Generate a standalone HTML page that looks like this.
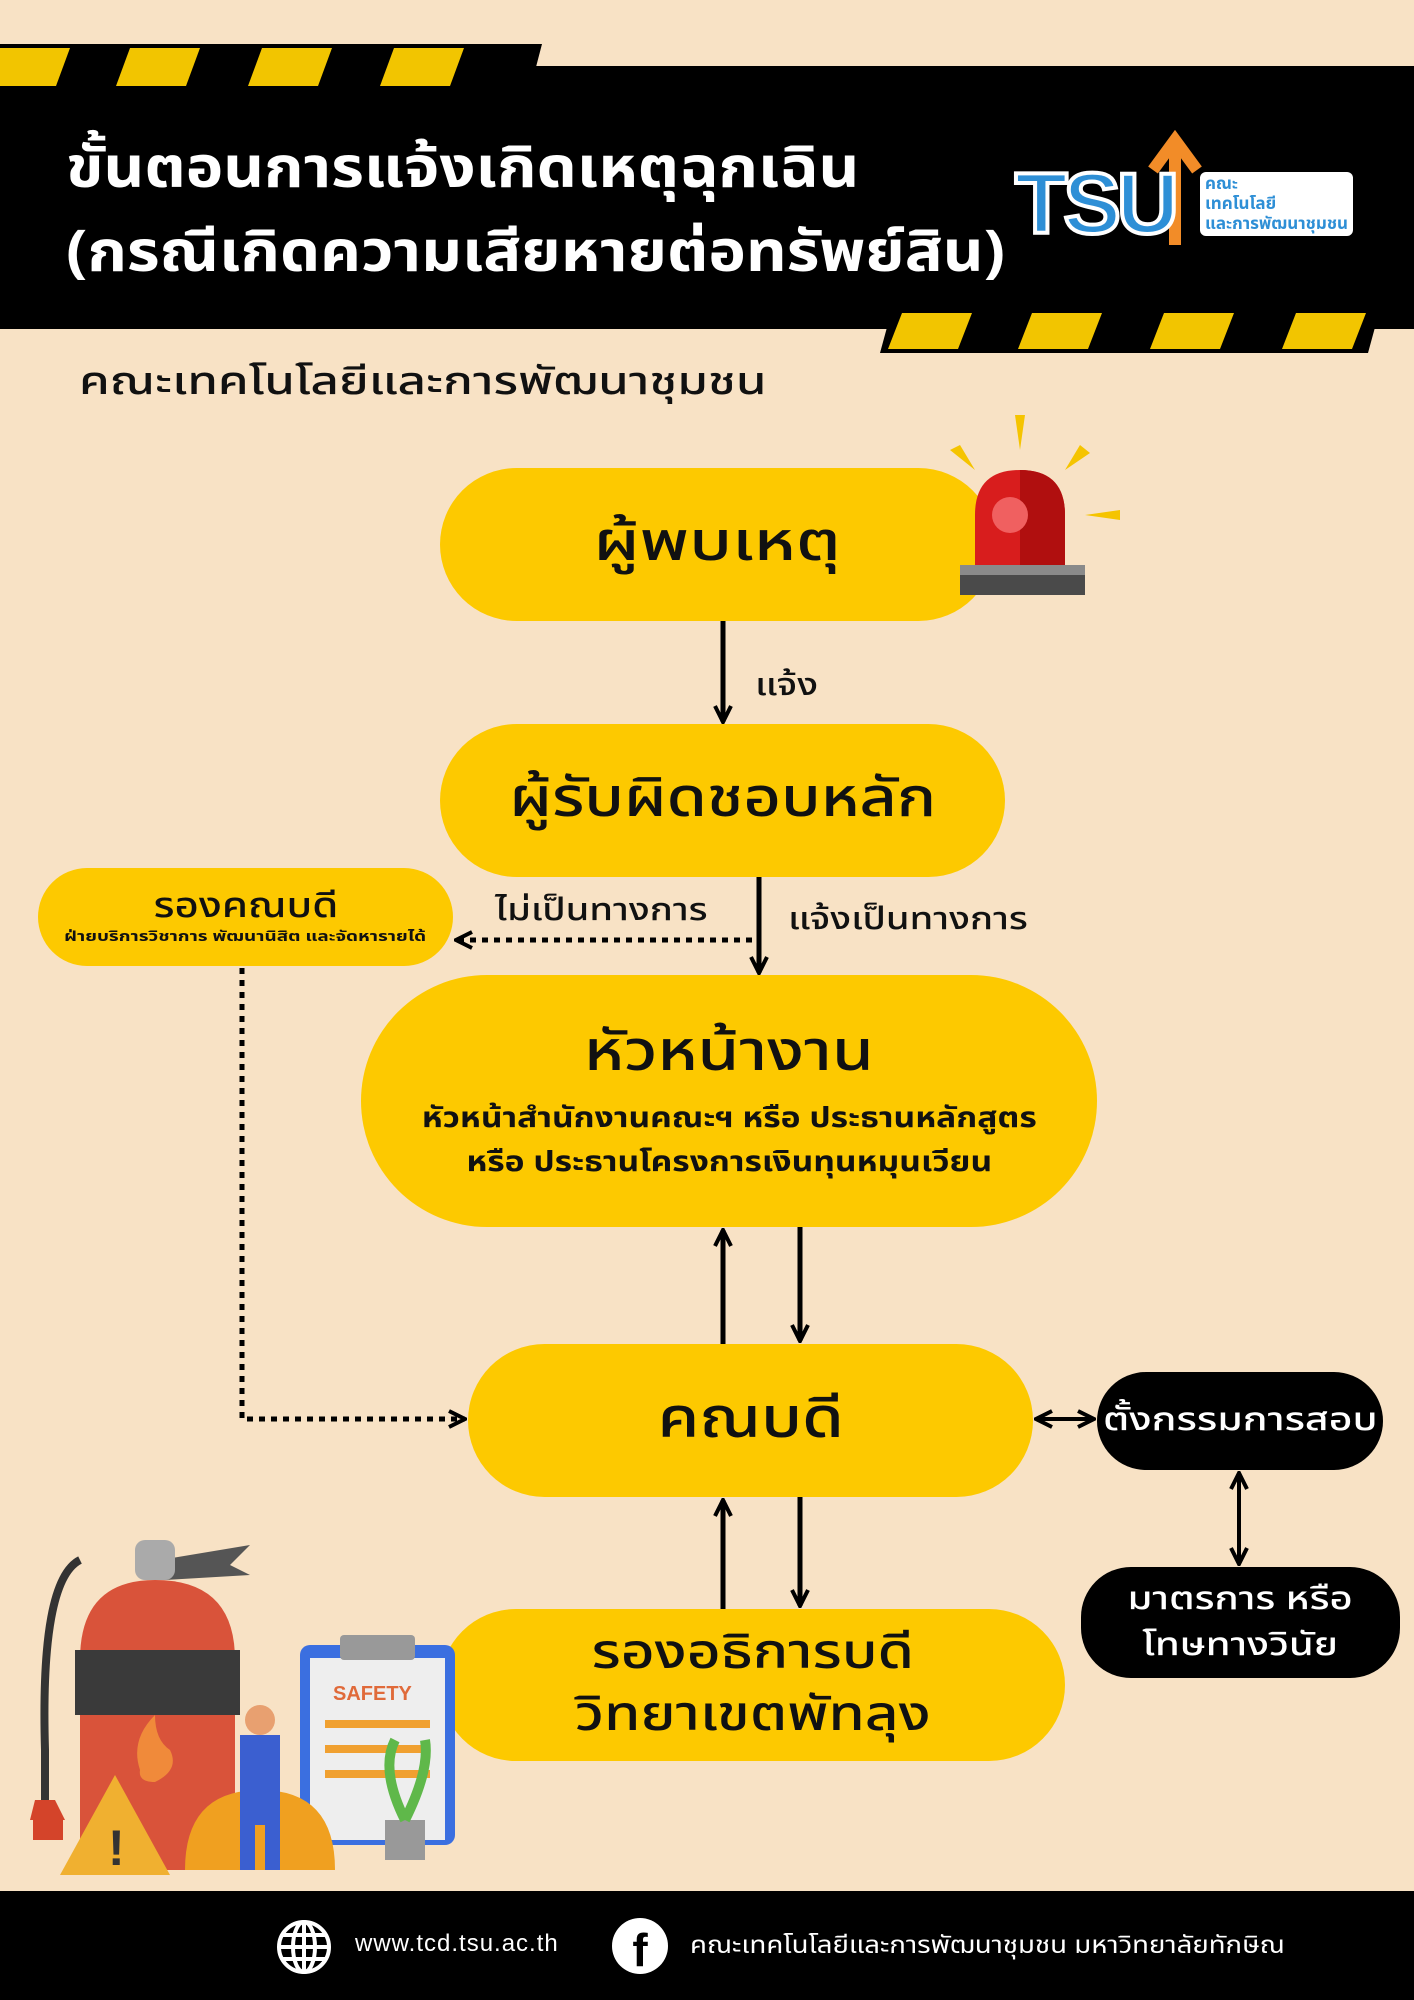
<!DOCTYPE html>
<html><head><meta charset="utf-8">
<style>
*{margin:0;padding:0;box-sizing:border-box}
body{width:1414px;height:2000px;background:#f8e2c5;position:relative;overflow:hidden;font-family:"Noto Sans Thai","Noto Sans Thai UI","Loma","Garuda","Tlwg Typo","Liberation Sans","DejaVu Sans",sans-serif;color:#111}
.abs{position:absolute}
.pill{position:absolute;background:#fdc900;border-radius:80px;display:flex;flex-direction:column;align-items:center;justify-content:center;text-align:center;font-weight:500}
.blk{position:absolute;background:#000;color:#fff;border-radius:50px;display:flex;flex-direction:column;align-items:center;justify-content:center;text-align:center;font-weight:500}
.lbl{position:absolute;font-size:31px;white-space:nowrap;transform-origin:left center;transform:scaleX(1.23);font-weight:500}
.s{display:inline-block;white-space:nowrap}
</style></head><body>
<!-- header -->
<div class="abs" style="left:0;top:66px;width:1414px;height:263px;background:#000"></div>
<svg class="abs" style="left:0;top:44px" width="560" height="46">
<polygon points="0,0 542,0 530,46 0,46" fill="#000"/>
<g fill="#f2c500">
<polygon points="0,4 70,4 56,42 0,42"/>
<polygon points="130,4 200,4 186,42 116,42"/>
<polygon points="262,4 332,4 318,42 248,42"/>
<polygon points="394,4 464,4 450,42 380,42"/>
</g></svg>
<svg class="abs" style="left:880px;top:309px" width="534" height="44">
<polygon points="12,0 500,0 488,44 0,44" fill="#000"/>
<g fill="#f2c500">
<polygon points="22,4 92,4 78,40 8,40"/>
<polygon points="152,4 222,4 208,40 138,40"/>
<polygon points="284,4 354,4 340,40 270,40"/>
<polygon points="416,4 486,4 472,40 402,40"/>
</g></svg>
<div class="abs" style="left:66px;top:128px;color:#fff;font-size:57px;font-weight:bold;line-height:84px;white-space:nowrap;transform-origin:left top;transform:scaleX(1.11)">ขั้นตอนการแจ้งเกิดเหตุฉุกเฉิน<br>(กรณีเกิดความเสียหายต่อทรัพย์สิน)</div>
<!-- logo -->
<div class="abs" style="left:1015px;top:130px;width:380px;height:130px;">
<svg class="abs" style="left:130px;top:0" width="60" height="120"><path d="M30,115 L30,20" stroke="#f28c28" stroke-width="12" fill="none"/><path d="M8,40 L30,10 L52,40" stroke="#f28c28" stroke-width="12" fill="none"/></svg>
<div class="abs" style="left:0;top:25px;font-size:86px;font-weight:900;color:#2e8fd6;font-family:'Liberation Sans',sans-serif;-webkit-text-stroke:4px #fff;letter-spacing:-4px">TSU</div>
<div class="abs" style="left:185px;top:42px;font-size:17px;color:#2e8fd6;font-weight:bold;line-height:20px;background:#fff;padding:2px 5px;border-radius:6px">คณะ<br>เทคโนโลยี<br>และการพัฒนาชุมชน</div>
</div>
<div class="abs" style="left:79px;top:355px;font-size:38px;font-weight:500;white-space:nowrap;transform-origin:left top;transform:scaleX(1.3)">คณะเทคโนโลยีและการพัฒนาชุมชน</div>

<!-- nodes -->
<div class="pill" style="left:440px;top:468px;width:555px;height:153px;font-size:54px"><span class="s" style="transform:scaleX(1.3)">ผู้พบเหตุ</span></div>
<div class="pill" style="left:440px;top:724px;width:565px;height:153px;font-size:54px"><span class="s" style="transform:scaleX(1.2)">ผู้รับผิดชอบหลัก</span></div>
<div class="pill" style="left:38px;top:868px;width:415px;height:98px;border-radius:50px"><div class="s" style="font-size:35px;line-height:40px;transform:scaleX(1.2)">รองคณบดี</div><div class="s" style="font-size:14px;font-weight:bold;transform:scaleX(1.35)">ฝ่ายบริการวิชาการ พัฒนานิสิต และจัดหารายได้</div></div>
<div class="pill" style="left:361px;top:975px;width:736px;height:252px;border-radius:126px"><div class="s" style="font-size:56px;line-height:74px;transform:scaleX(1.2)">หัวหน้างาน</div><div class="s" style="font-size:28px;font-weight:bold;line-height:44px;margin-top:6px;transform:scaleX(1.2)">หัวหน้าสำนักงานคณะฯ หรือ ประธานหลักสูตร<br>หรือ ประธานโครงการเงินทุนหมุนเวียน</div></div>
<div class="pill" style="left:468px;top:1344px;width:565px;height:153px;font-size:56px"><span class="s" style="transform:scaleX(1.2)">คณบดี</span></div>
<div class="pill" style="left:440px;top:1609px;width:625px;height:152px;font-size:48px;line-height:62px"><span class="s" style="transform:scaleX(1.22)">รองอธิการบดี<br>วิทยาเขตพัทลุง</span></div>
<div class="blk" style="left:1097px;top:1372px;width:286px;height:98px;font-size:32px"><span class="s" style="transform:scaleX(1.28)">ตั้งกรรมการสอบ</span></div>
<div class="blk" style="left:1081px;top:1567px;width:319px;height:111px;font-size:32px;line-height:46px"><span class="s" style="transform:scaleX(1.25)">มาตรการ หรือ<br>โทษทางวินัย</span></div>

<!-- siren (in front) -->
<svg class="abs" style="left:950px;top:415px" width="180" height="195">
<g fill="#f5c400"><polygon points="65,0 75,0 70,35"/><polygon points="0,35 10,30 25,55"/><polygon points="130,30 140,38 115,55"/><polygon points="170,95 170,105 135,100"/></g>
<path d="M25,150 L25,100 Q25,55 70,55 Q115,55 115,100 L115,150Z" fill="#d81d1d"/>
<path d="M70,55 Q115,55 115,100 L115,150 L70,150Z" fill="#b00f0f"/>
<circle cx="60" cy="100" r="18" fill="#f06060"/>
<rect x="10" y="150" width="125" height="10" fill="#8a8a8a"/>
<rect x="10" y="160" width="125" height="20" fill="#4a4a4a"/>
</svg>

<!-- labels -->
<div class="lbl" style="left:755px;top:662px">แจ้ง</div>
<div class="lbl" style="left:788px;top:896px">แจ้งเป็นทางการ</div>
<div class="lbl" style="left:495px;top:887px">ไม่เป็นทางการ</div>

<!-- connectors -->
<svg class="abs" style="left:0;top:0" width="1414" height="2000">
<defs>
<marker id="b" viewBox="0 0 20 20" refX="18" refY="10" markerWidth="20" markerHeight="20" orient="auto-start-reverse" markerUnits="userSpaceOnUse"><path d="M2,2 L18,10 L2,18" fill="none" stroke="#000" stroke-width="4"/></marker></defs>
<g stroke="#000" stroke-width="5" fill="none">
<line x1="723" y1="621" x2="723" y2="722" marker-end="url(#b)"/>
<line x1="759" y1="877" x2="759" y2="973" marker-end="url(#b)"/>
<line x1="752" y1="940" x2="456" y2="940" stroke-dasharray="6,6" marker-end="url(#b)"/>
<polyline points="242,968 242,1419 465,1419" stroke-dasharray="6,6" marker-end="url(#b)"/>
<line x1="723" y1="1344" x2="723" y2="1230" marker-end="url(#b)"/>
<line x1="800" y1="1227" x2="800" y2="1341" marker-end="url(#b)"/>
<line x1="723" y1="1609" x2="723" y2="1500" marker-end="url(#b)"/>
<line x1="800" y1="1497" x2="800" y2="1606" marker-end="url(#b)"/>
<line x1="1036" y1="1419" x2="1094" y2="1419" marker-start="url(#b)" marker-end="url(#b)" stroke-width="4"/>
<line x1="1239" y1="1473" x2="1239" y2="1564" marker-start="url(#b)" marker-end="url(#b)" stroke-width="4"/>
</g></svg>

<!-- illustration -->
<svg class="abs" style="left:30px;top:1520px" width="440" height="380">
<path d="M50,40 Q10,60 15,230 L15,280" stroke="#333" stroke-width="8" fill="none"/>
<polygon points="5,280 25,280 35,300 0,300" fill="#d4442a"/>
<rect x="3" y="300" width="30" height="20" fill="#d4442a"/>
<path d="M130,40 L220,25 L200,45 L220,55 L135,60Z" fill="#555"/>
<rect x="105" y="20" width="40" height="40" rx="10" fill="#aaa"/>
<path d="M50,140 Q50,60 125,60 Q205,60 205,140 L205,330 Q205,350 185,350 L70,350 Q50,350 50,330Z" fill="#d9533a"/>
<rect x="45" y="130" width="165" height="65" fill="#3a3a3a"/>
<path d="M110,250 Q100,220 125,195 Q125,220 140,230 Q150,250 125,262 Q108,262 110,250Z" fill="#f08a3a"/>
<rect x="270" y="125" width="155" height="200" rx="10" fill="#3b6fe0"/>
<rect x="280" y="138" width="135" height="182" fill="#eee"/>
<rect x="310" y="115" width="75" height="25" rx="4" fill="#999"/>
<text x="303" y="180" font-size="20" font-weight="bold" fill="#e06a3a" font-family="Liberation Sans,sans-serif">SAFETY</text>
<g fill="#f0a030"><rect x="295" y="200" width="105" height="8"/><rect x="295" y="225" width="105" height="8"/><rect x="295" y="250" width="105" height="8"/></g>
<polygon points="30,355 85,255 140,355" fill="#f0b030"/>
<text x="78" y="345" font-size="50" font-weight="bold" fill="#333" font-family="Liberation Sans,sans-serif">!</text>
<path d="M155,350 Q155,270 230,270 Q305,270 305,350Z" fill="#f0a020"/>
<rect x="210" y="215" width="40" height="90" fill="#3b5fd0"/>
<circle cx="230" cy="200" r="15" fill="#e8a070"/>
<rect x="210" y="300" width="15" height="50" fill="#3b5fd0"/><rect x="235" y="300" width="15" height="50" fill="#3b5fd0"/>
<rect x="355" y="300" width="40" height="40" fill="#999"/>
<path d="M375,300 Q350,250 365,220 M375,300 Q400,250 395,220" stroke="#5fb84a" stroke-width="10" fill="none"/>
</svg>

<!-- footer -->
<div class="abs" style="left:0;top:1891px;width:1414px;height:109px;background:#000"></div>
<svg class="abs" style="left:276px;top:1919px" width="56" height="56"><g fill="none" stroke="#fff" stroke-width="4"><circle cx="28" cy="28" r="25"/><ellipse cx="28" cy="28" rx="11" ry="25"/><line x1="3" y1="28" x2="53" y2="28"/><line x1="7" y1="16" x2="49" y2="16"/><line x1="7" y1="40" x2="49" y2="40"/><line x1="28" y1="3" x2="28" y2="53"/></g></svg>
<div class="abs" style="left:355px;top:1930px;color:#fff;font-size:24px;letter-spacing:1px;font-family:'Liberation Sans',sans-serif">www.tcd.tsu.ac.th</div>
<div class="abs" style="left:612px;top:1918px;width:56px;height:56px;border-radius:50%;background:#fff;color:#000;font-size:46px;font-weight:bold;text-align:center;line-height:64px;font-family:'Liberation Sans',sans-serif">f</div>
<div class="abs" style="left:690px;top:1928px;color:#fff;font-size:24px;white-space:nowrap;transform-origin:left top;transform:scaleX(1.15)">คณะเทคโนโลยีและการพัฒนาชุมชน มหาวิทยาลัยทักษิณ</div>
</body></html>
